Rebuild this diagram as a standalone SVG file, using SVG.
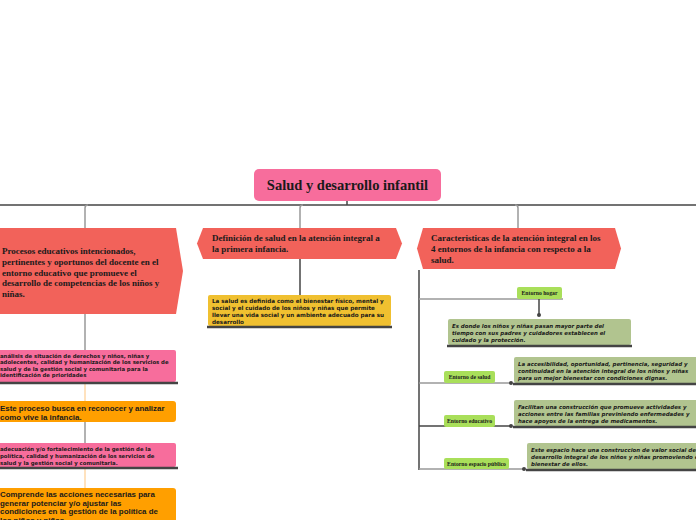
<svg xmlns="http://www.w3.org/2000/svg" width="696" height="520" viewBox="0 0 696 520">
<style>
.ttl{font-family:"Liberation Serif",serif;font-weight:bold;fill:#1a1a1a}
.sm{font-family:"DejaVu Sans","Liberation Sans",sans-serif;font-weight:bold;font-size:5.35px;fill:#1a1a1a}
.ye{font-size:5.6px}
.it{font-family:"DejaVu Sans","Liberation Sans",sans-serif;font-weight:bold;font-style:italic;font-size:5.45px;fill:#1a1a1a}
.md{font-family:"Liberation Sans",Arial,sans-serif;font-weight:bold;font-size:7.9px;fill:#1a1a1a}
.lab{font-family:"Liberation Serif",serif;font-weight:bold;font-size:5.7px;fill:#1a1a1a}
.red{fill:#f2625a}
.pink{fill:#f76d9c}
.org{fill:#ff9f00}
.grn{fill:#a9df5a}
.olv{fill:#b1c48f}
.bar{stroke:#444;stroke-width:2.5}
.ln{stroke:#444;stroke-width:1.5;fill:none}
.gl{stroke:#999;stroke-width:1.5;fill:none}
.ol{stroke:#ffd9a8;stroke-width:1.5;fill:none}
</style>
<rect width="696" height="520" fill="#fff"/>
<g id="connectors">
<line class="ln" x1="0" y1="205" x2="696" y2="205"/>
<line class="ln" x1="347" y1="201" x2="347" y2="205"/>
<path class="gl" d="M85,228 V208 Q85,205 88,205"/>
<path class="gl" d="M300,228 V208 Q300,205 303,205"/>
<path class="gl" d="M518,228 V208 Q518,205 515,205"/>
<line class="ln" x1="300" y1="259" x2="300" y2="295"/>
<line class="gl" x1="85" y1="314" x2="85" y2="350"/>
<line class="ol" x1="85" y1="384" x2="85" y2="401"/>
<line class="gl" x1="85" y1="422" x2="85" y2="443"/>
<line class="ol" x1="85" y1="469" x2="85" y2="488"/>
<line class="ln" x1="419" y1="270" x2="419" y2="470"/>
<line class="gl" x1="419" y1="299" x2="563" y2="299"/>
<line class="ln" x1="539" y1="299" x2="539" y2="315"/>
<circle cx="539" cy="315" r="2" fill="#444"/>
<line class="gl" x1="419" y1="383" x2="512" y2="383"/>
<circle cx="511" cy="383" r="2" fill="#444"/>
<line class="ln" x1="419" y1="426" x2="512" y2="426"/>
<circle cx="511" cy="426" r="2" fill="#444"/>
<line class="gl" x1="419" y1="469" x2="525" y2="469"/>
<circle cx="524" cy="469" r="2" fill="#444"/>
</g>
<g id="root">
<rect x="254" y="169" width="187" height="32" rx="5" class="pink"/>
<text class="ttl" x="347.5" y="190" font-size="14.5" text-anchor="middle">Salud y desarrollo infantil</text>
</g>
<g id="n-procesos">
<polygon class="red" points="0,228 176,228 183,271 176,314 0,314"/>
<text class="ttl" font-size="9"><tspan x="2" y="254">Procesos educativos intencionados,</tspan><tspan x="2" y="265">pertinentes y oportunos del docente en el</tspan><tspan x="2" y="275.5">entorno educativo que promueve el</tspan><tspan x="2" y="286">desarrollo de competencias de los niños y</tspan><tspan x="2" y="296.5">niñas.</tspan></text>
</g>
<g id="n-definicion">
<polygon class="red" points="203,228 396,228 402,243.5 396,259 203,259 197,243.5"/>
<text class="ttl" font-size="9"><tspan x="212" y="241">Definición de salud en la atención integral a</tspan><tspan x="212" y="252">la primera infancia.</tspan></text>
</g>
<g id="n-caracteristicas">
<polygon class="red" points="423,228 615,228 621,248.5 615,269 423,269 417,248.5"/>
<text class="ttl" font-size="9"><tspan x="431" y="241">Caracteristicas de la atención integral en los</tspan><tspan x="431" y="252">4 entornos de la infancia con respecto a la</tspan><tspan x="431" y="263">salud.</tspan></text>
</g>
<g id="n-salud-def">
<rect x="208" y="295" width="183" height="31" rx="2" fill="#f0c030"/>
<line class="bar" x1="207" y1="327" x2="392" y2="327"/>
<text class="sm ye"><tspan x="212" y="302.5">La salud es definida como el bienestar físico, mental y</tspan><tspan x="212" y="309.5">social y el cuidado de los niños y niñas  que permite</tspan><tspan x="212" y="316.5">llevar una vida social y un ambiente adecuado para su</tspan><tspan x="212" y="323.5">desarrollo</tspan></text>
</g>
<g id="n-analisis">
<rect x="-4" y="350" width="180" height="32" rx="2" class="pink"/>
<line class="bar" x1="0" y1="383" x2="178" y2="383"/>
<text class="sm"><tspan x="0" y="357.5">análisis de situación de derechos y niños, niñas y</tspan><tspan x="0" y="364">adolecentes, calidad y humanización de los servicios de</tspan><tspan x="0" y="370.5">salud y de la gestión social y comunitaria para la</tspan><tspan x="0" y="377">identificación de prioridades</tspan></text>
</g>
<g id="n-proceso">
<rect x="-4" y="401" width="180" height="21" rx="3" class="org"/>
<text class="md"><tspan x="0" y="411">Este proceso busca en reconocer y analizar</tspan><tspan x="0" y="419.5">como vive la infancia.</tspan></text>
</g>
<g id="n-adecuacion">
<rect x="-4" y="443" width="180" height="24" rx="2" class="pink"/>
<line class="bar" x1="0" y1="468" x2="178" y2="468"/>
<text class="sm"><tspan x="0" y="451">adecuación y/o fortalecimiento de la gestión de la</tspan><tspan x="0" y="458">política, calidad y humanización de los servicios de</tspan><tspan x="0" y="464.5">salud y la gestión social y comunitaria.</tspan></text>
</g>
<g id="n-comprende">
<rect x="-4" y="488" width="180" height="40" rx="3" class="org"/>
<text class="md"><tspan x="0" y="497">Comprende las acciones necesarias para</tspan><tspan x="0" y="505.5">generar potenciar y/o ajustar las</tspan><tspan x="0" y="514">condiciones en la gestión de la política de</tspan><tspan x="0" y="522.5">los niños y niñas</tspan></text>
</g>
<g id="n-hogar">
<rect x="517" y="287" width="45" height="12" rx="2" class="grn"/>
<text class="lab" x="539.5" y="295" text-anchor="middle">Entorno hogar</text>
</g>
<g id="n-hogar-desc">
<rect x="448" y="319" width="183" height="26" rx="2" class="olv"/>
<line class="bar" x1="447" y1="346" x2="632" y2="346"/>
<text class="it"><tspan x="452" y="327.5">Es donde los niños y niñas pasan mayor parte del</tspan><tspan x="452" y="334.5">tiempo con sus padres y cuidadores establecen el</tspan><tspan x="452" y="341.5">cuidado y la protección.</tspan></text>
</g>
<g id="n-salud">
<rect x="444" y="371" width="51" height="12" rx="2" class="grn"/>
<text class="lab" x="469.5" y="379" text-anchor="middle">Entorno de salud</text>
</g>
<g id="n-salud-desc">
<rect x="514" y="357" width="186" height="26" rx="2" class="olv"/>
<line class="bar" x1="513" y1="384" x2="696" y2="384"/>
<text class="it"><tspan x="518" y="366">La accesibilidad, oportunidad, pertinencia, seguridad y</tspan><tspan x="518" y="373">continuidad en la atención integral de los niños y niñas</tspan><tspan x="518" y="380">para un mejor bienestar con condiciones dignas.</tspan></text>
</g>
<g id="n-educativo">
<rect x="444" y="415" width="51" height="12" rx="2" class="grn"/>
<text class="lab" x="469.5" y="423" text-anchor="middle">Entorno educativo</text>
</g>
<g id="n-educativo-desc">
<rect x="514" y="400" width="186" height="26" rx="2" class="olv"/>
<line class="bar" x1="513" y1="427" x2="696" y2="427"/>
<text class="it"><tspan x="518" y="409">Facilitan una construcción que promueve actividades y</tspan><tspan x="518" y="416">acciones entre las familias previniendo enfermedades y</tspan><tspan x="518" y="423">hace apoyos de la entrega de medicamentos.</tspan></text>
</g>
<g id="n-publico">
<rect x="444" y="458" width="65" height="11" rx="2" class="grn"/>
<text class="lab" x="476.5" y="465.5" text-anchor="middle">Entorno espacio público</text>
</g>
<g id="n-publico-desc">
<rect x="527" y="443" width="173" height="26" rx="2" class="olv"/>
<line class="bar" x1="526" y1="470" x2="696" y2="470"/>
<text class="it"><tspan x="531" y="451.5">Este espacio hace una construccion de valor social del</tspan><tspan x="531" y="458.5">desarrollo integral de los niños y niñas promoviendo el</tspan><tspan x="531" y="465.5">bienestar de ellos.</tspan></text>
</g>
</svg>
